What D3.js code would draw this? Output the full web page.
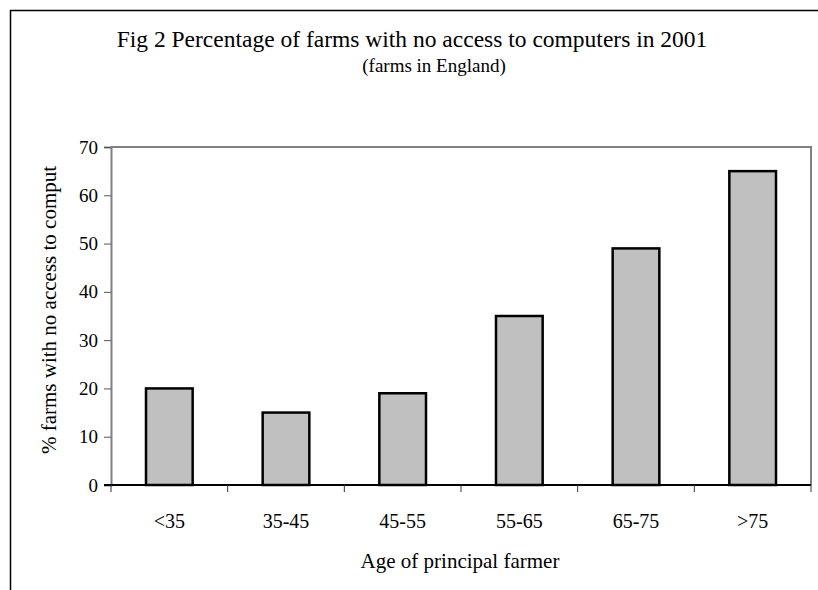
<!DOCTYPE html>
<html>
<head>
<meta charset="utf-8">
<script src="https://cdn.jsdelivr.net/npm/d3@7"></script>
<style>
  html, body { margin: 0; padding: 0; background: #fff; }
  svg { display: block; }
  svg text { font-family: "Liberation Serif", "Times New Roman", "DejaVu Serif", serif; fill: #000; }
</style>
</head>
<body>
<svg id="chart" width="818" height="590"></svg>
<script>
// Age bands of the principal farmer and share of farms without computer access (%)
const ageBands = ["<35", "35-45", "45-55", "55-65", "65-75", ">75"];
const noAccessPct = [20, 15, 19, 35, 49, 65];
const yTicks = [0, 10, 20, 30, 40, 50, 60, 70];

const titleText = "Fig 2 Percentage of farms with no access to computers in 2001";
const subtitleText = "(farms in England)";
const xTitle = "Age of principal farmer";
const yTitle = "% farms with no access to comput";

const svg = d3.select("#chart");
const W = 818, H = 590;
const plot = { left: 111, right: 811, top: 147, bottom: 485 };

// Outer chart frame: top and left edges
svg.append("path")
  .attr("d", `M10.5,${H} L10.5,10.5 L${W},10.5`)
  .attr("fill", "none").attr("stroke", "#000").attr("stroke-width", 1.5);

const x = d3.scaleBand().domain(ageBands).range([plot.left, plot.right]).paddingInner(0.6).paddingOuter(0.3);
const xOuter = d3.scaleBand().domain(ageBands).range([plot.left, plot.right]);
const y = d3.scaleLinear().domain([0, 70]).range([plot.bottom, plot.top]);

// Plot area frame (top and right)
svg.append("path")
  .attr("d", `M${plot.left},${plot.top} L${plot.right},${plot.top} L${plot.right},${plot.bottom}`)
  .attr("fill", "none").attr("stroke", "#808080").attr("stroke-width", 2);

// Bars
svg.append("g").selectAll("rect")
  .data(ageBands)
  .join("rect")
  .attr("x", d => x(d))
  .attr("width", x.bandwidth())
  .attr("y", (d, i) => y(noAccessPct[i]))
  .attr("height", (d, i) => y(0) - y(noAccessPct[i]))
  .attr("fill", "#c0c0c0")
  .attr("stroke", "#000")
  .attr("stroke-width", 2.5);

// Y axis
const yAxis = svg.append("g")
  .attr("transform", `translate(${plot.left},0)`)
  .call(d3.axisLeft(y).tickValues(yTicks).tickSize(7).tickPadding(6).tickFormat(d3.format("d")));
yAxis.select(".domain").attr("stroke", "#808080").attr("stroke-width", 2);
yAxis.selectAll(".tick line").attr("stroke", "#555").attr("stroke-width", 1);
yAxis.selectAll("text").attr("font-size", 19);

// X axis: ticks mark category boundaries
const boundaries = ageBands.map(d => xOuter(d)).concat([plot.right]);
const xg = svg.append("g");
xg.append("line")
  .attr("x1", plot.left - 7).attr("x2", plot.right)
  .attr("y1", plot.bottom).attr("y2", plot.bottom)
  .attr("stroke", "#000").attr("stroke-width", 2);
xg.selectAll("line.tick")
  .data(boundaries)
  .join("line")
  .attr("class", "tick")
  .attr("x1", d => d).attr("x2", d => d)
  .attr("y1", plot.bottom).attr("y2", plot.bottom + 7)
  .attr("stroke", "#333").attr("stroke-width", 1);
xg.selectAll("text")
  .data(ageBands)
  .join("text")
  .attr("x", d => xOuter(d) + xOuter.bandwidth() / 2)
  .attr("y", 528)
  .attr("text-anchor", "middle")
  .attr("font-size", 20)
  .text(d => d);

// Titles
svg.append("text").attr("x", 412).attr("y", 47).attr("text-anchor", "middle")
  .attr("font-size", 23.5).text(titleText);
svg.append("text").attr("x", 434).attr("y", 72).attr("text-anchor", "middle")
  .attr("font-size", 19).text(subtitleText);
svg.append("text").attr("x", 460).attr("y", 568).attr("text-anchor", "middle")
  .attr("font-size", 21).text(xTitle);
svg.append("text")
  .attr("transform", "translate(56,310) rotate(-90)")
  .attr("text-anchor", "middle")
  .attr("font-size", 21).text(yTitle);
</script>
</body>
</html>
